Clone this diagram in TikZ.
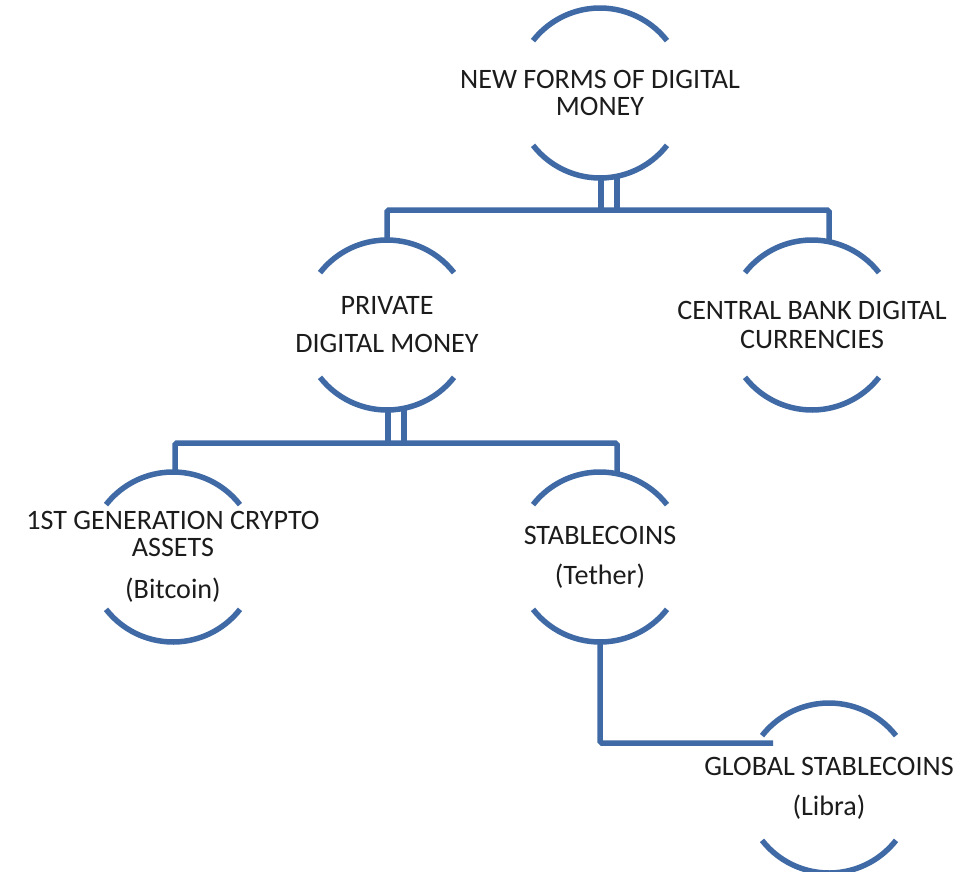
\documentclass[tikz,border=0pt]{standalone}
\usepackage{fontspec}
\setmainfont{Carlito}
\definecolor{ringblue}{RGB}{64,106,166}
\definecolor{inkgray}{RGB}{28,28,28}
\tikzset{
  ring/.style={draw=ringblue, line width=0.11cm},
  link/.style={draw=ringblue, line width=0.11cm, rounded corners=1pt},
  twin/.style={link, double=white, double distance=0.21cm},
  lbl/.style={align=center, text=inkgray, inner sep=0pt, font=\fontsize{16}{15.3}\selectfont}
}

\begin{document}
\begin{tikzpicture}[x=0.02cm,y=0.02cm]
\useasboundingbox (0,0) rectangle (977,-872);
\node[lbl] (root) at (600,-93) {NEW FORMS OF DIGITAL\\MONEY};
\node[lbl] (priv) at (387,-325) {PRIVATE\\[6.3pt]DIGITAL MONEY};
\node[lbl] (cbdc) at (812,-325) {CENTRAL BANK DIGITAL\\[1.7pt]CURRENCIES};
\node[lbl] (gen) at (173,-557) {1ST GENERATION CRYPTO\\ASSETS\\[8.6pt](Bitcoin)};
\node[lbl] (stab) at (600,-557) {STABLECOINS\\[7.4pt](Tether)};
\node[lbl] (glob) at (829,-788) {GLOBAL STABLECOINS\\[7.4pt](Libra)};
\coordinate (j1) at (609,-210);
\coordinate (j2) at (396,-443);
% stems under the parent nodes
\draw[twin] ([shift={(9,-84)}]root.center) -- ([shift={(9,-117)}]root.center);
\draw[twin] ([shift={(9,-84)}]priv.center) -- ([shift={(9,-118)}]priv.center);
% branches
\draw[link] ([shift={(0,85)}]priv.center) |- (j1) -| ([shift={(17,83)}]cbdc.center);
\draw[link] ([shift={(2,85)}]gen.center) |- (j2) -| ([shift={(17,83)}]stab.center);
\draw[link] ([shift={(0,-85)}]stab.center) |- ([shift={(-56,45)}]glob.center);
% half rings round every label
\foreach \n in {root,priv,cbdc,gen,stab,glob}{
  \draw[ring] ([shift={(38:85)}]\n.center) arc (38:142:85);
  \draw[ring] ([shift={(218:85)}]\n.center) arc (218:322:85);
}
\end{tikzpicture}
\end{document}
